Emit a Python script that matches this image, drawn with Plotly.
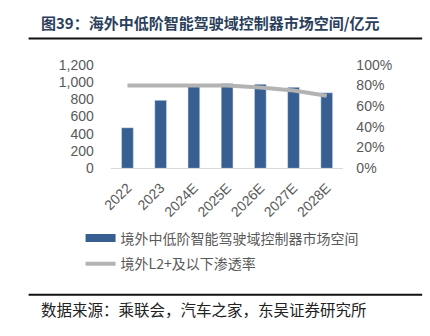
import plotly.graph_objects as go

years = ["2022", "2023", "2024E", "2025E", "2026E", "2027E", "2028E"]
market = [470, 787, 949, 982, 974, 938, 875]
penetration = [0.80, 0.80, 0.80, 0.80, 0.78, 0.75, 0.70]

bar_name = "境外中低阶智能驾驶域控制器市场空间"
line_name = "境外L2+及以下渗透率"
title_text = "图39：海外中低阶智能驾驶域控制器市场空间/亿元"
source_text = "数据来源：乘联会，汽车之家，东吴证券研究所"

BAR = "#375f92"
LINE = "#b3b3b3"
TICK = "#595959"
CJK = "Noto Sans CJK SC"
LAT = "Liberation Sans, Arial"

fig = go.Figure()
fig.add_trace(go.Bar(x=years, y=market, marker_color=BAR, showlegend=False, yaxis="y"))
fig.add_trace(go.Scatter(x=years, y=penetration, mode="lines", yaxis="y2",
                         line=dict(color=LINE, width=4), showlegend=True,
                         name=line_name, legend="legend2"))
# legend proxy for bars (wide swatch)
fig.add_trace(go.Scatter(x=[None], y=[None], mode="lines", line=dict(color=BAR, width=8),
                         name=bar_name, legend="legend", showlegend=True))

fig.update_layout(
    width=430, height=336,
    margin=dict(l=0, r=0, t=0, b=0),
    paper_bgcolor="white", plot_bgcolor="white",
    bargap=0.645,
    xaxis=dict(domain=[0.2419, 0.7942], tickangle=-45, showgrid=False,
               showline=True, linecolor="#d9d9d9", linewidth=1,
               tickfont=dict(family=LAT, size=14, color=TICK), ticks="",
               ticklabelstandoff=5),
    yaxis=dict(domain=[0.499, 0.823], range=[0, 1200], tickvals=[0, 200, 400, 600, 800, 1000, 1200],
               tickformat=",d", showgrid=False, zeroline=False, showline=False,
               tickfont=dict(family=LAT, size=14, color=TICK), ticklabelstandoff=16),
    yaxis2=dict(overlaying="y", side="right", range=[0, 1], tickvals=[0, 0.2, 0.4, 0.6, 0.8, 1.0],
                tickformat=".0%", showgrid=False, zeroline=False, showline=False,
                tickfont=dict(family=LAT, size=14, color=TICK), ticklabelstandoff=12),
    legend=dict(x=0.170, y=1 - 242 / 336, xanchor="left", yanchor="middle",
                font=dict(family=CJK, size=14, color=TICK), bgcolor="rgba(0,0,0,0)",
                itemwidth=30),
    legend2=dict(x=0.170, y=1 - 269 / 336, xanchor="left", yanchor="middle",
                 font=dict(family=CJK, size=14, color=TICK), bgcolor="rgba(0,0,0,0)",
                 itemwidth=30),
    shapes=[
        dict(type="line", xref="paper", yref="paper", x0=20 / 430, x1=422 / 430,
             y0=1 - 32 / 336, y1=1 - 32 / 336, line=dict(color="#111111", width=2)),
        dict(type="line", xref="paper", yref="paper", x0=20 / 430, x1=422 / 430,
             y0=1 - 301 / 336, y1=1 - 301 / 336, line=dict(color="#111111", width=2)),
    ],
    annotations=[
        dict(text="<b>" + title_text + "</b>", xref="paper", yref="paper", x=31 / 430, y=1 - 15 / 336,
             xanchor="left", yanchor="middle", showarrow=False,
             font=dict(family=CJK, size=15, color="#2b3f5c")),
        dict(text=source_text, xref="paper", yref="paper", x=31 / 430, y=1 - 316 / 336,
             xanchor="left", yanchor="middle", showarrow=False,
             font=dict(family=CJK, size=15.5, color="#222222")),
    ],
)

fig.write_html("out.html")
